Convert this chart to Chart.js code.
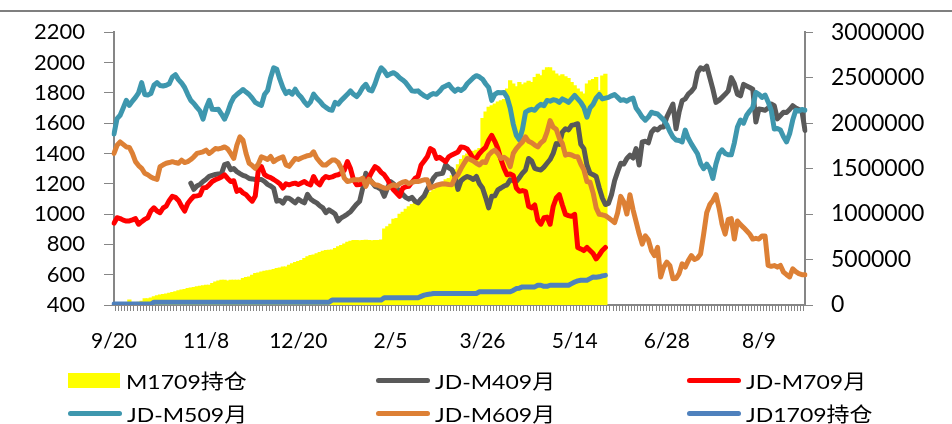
<!DOCTYPE html>
<html>
<head>
<meta charset="utf-8">
<script src="https://cdn.jsdelivr.net/npm/chart.js@4.4.1/dist/chart.umd.min.js"></script>
<style>
  body { margin: 0; background: #fff; }
  #wrap { position: relative; width: 952px; height: 424px; }
  #legend { position: absolute; left: 0; top: 0; width: 952px; height: 424px; pointer-events: none; }
  .item { position: absolute; display: flex; align-items: center; height: 24px;
          font-family: Lato, "Noto Sans CJK SC", sans-serif; font-size: 20px; color: #000; white-space: nowrap; }
  .item .txt { display: inline-block; transform: scaleX(1.15); transform-origin: left center; }
  .swatch { display: inline-block; width: 54px; height: 5px; border-radius: 3px; margin-right: 5px; }
  .box { display: inline-block; width: 52px; height: 15px; margin-right: 6px; }
</style>
</head>
<body>
<div id="wrap">
  <canvas id="chart" width="952" height="424"></canvas>
  <div id="legend"></div>
</div>
<script>
// x axis: one category per trading day, a label every 30 days
const tickLabels = ['9/20', '11/8', '12/20', '2/5', '3/26', '5/14', '6/28', '8/9'];
const tickEvery = 30;
const dayCount = 226;

// M1709 open interest (right axis), ends at day 160
const m1709Oi = [
  5000, 8000, 10000, 12000, 15000, 54000, 20000, 25000, 30000, 40000,
  68000, 68000, 75000, 90000, 100000, 109000, 115000, 120000, 127000, 135000,
  145000, 155000, 163000, 170000, 181000, 185000, 192000, 199000, 205000, 210000,
  215000, 217000, 235000, 253000, 262000, 272000, 270000, 262000, 270000, 272000,
  272000, 272000, 290000, 300000, 308000, 325000, 344000, 352000, 362000, 370000,
  375000, 380000, 390000, 399000, 405000, 417000, 417000, 435000, 453000, 465000,
  478000, 489000, 510000, 530000, 543000, 550000, 562000, 575000, 590000, 598000,
  600000, 605000, 620000, 640000, 652000, 670000, 688000, 700000, 707000, 707000,
  705000, 707000, 710000, 707000, 705000, 708000, 707000, 715000, 834000, 860000,
  888000, 942000, 950000, 996000, 1020000, 1051000, 1080000, 1105000, 1130000, 1141000,
  1177000, 1195000, 1214000, 1240000, 1260000, 1286000, 1310000, 1322000, 1377000, 1390000,
  1420000, 1486000, 1540000, 1600000, 1640000, 1660000, 1685000, 1690000, 1700000, 1720000,
  2050000, 2120000, 2174000, 2190000, 2210000, 2230000, 2246000, 2260000, 2373000, 2464000,
  2430000, 2400000, 2446000, 2420000, 2440000, 2460000, 2446000, 2500000, 2536000, 2520000,
  2580000, 2609000, 2609000, 2573000, 2540000, 2518000, 2530000, 2510000, 2490000, 2446000,
  2410000, 2373000, 2340000, 2319000, 2428000, 2464000, 2480000, 2500000, 2355000, 2518000, 2536000
];

// JD-M409 spread, first value at day 25
const m409Start = 25;
const m409 = [
  1204, 1163, 1185, 1196, 1215,
  1230, 1248, 1255, 1261, 1265, 1267, 1326, 1333, 1293, 1300,
  1280, 1267, 1255, 1248, 1235, 1232, 1228, 1228, 1228, 1215,
  1196, 1185, 1170, 1085, 1090, 1072, 1106, 1104, 1090, 1074,
  1098, 1085, 1074, 1130, 1100, 1085, 1074, 1055, 1041, 1009,
  1028, 1015, 1000, 954, 975, 987, 1000, 1015, 1041, 1065,
  1085, 1172, 1269, 1237, 1210, 1183, 1175, 1163, 1117, 1170,
  1215, 1200, 1172, 1150, 1130, 1110, 1098, 1110, 1085, 1074,
  1100, 1120, 1163, 1200, 1237, 1261, 1265, 1269, 1326, 1305,
  1293, 1250, 1163, 1220, 1237, 1248, 1240, 1228, 1248, 1200,
  1172, 1110, 1041, 1117, 1120, 1160, 1172, 1185, 1193, 1226,
  1220, 1215, 1240, 1270, 1291, 1367, 1350, 1302, 1295, 1291,
  1310, 1335, 1360, 1400, 1465, 1460, 1541, 1563, 1555, 1585,
  1590, 1596, 1460, 1432, 1324, 1269, 1260, 1248, 1172, 1106,
  1063, 1070, 1128, 1220, 1280, 1335, 1330, 1367, 1389, 1370,
  1432, 1324, 1476, 1480, 1470, 1540, 1563, 1555, 1574, 1574,
  1640, 1683, 1726, 1563, 1672, 1748, 1760, 1791, 1810, 1835,
  1933, 1965, 1955, 1976, 1900, 1824, 1737, 1750, 1770, 1790,
  1813, 1900, 1860, 1791, 1780, 1856, 1845, 1835, 1824, 1607,
  1693, 1690, 1685, 1700, 1726, 1715, 1628, 1650, 1672, 1670,
  1690, 1715, 1700, 1690, 1680, 1552
];

// JD-M709 spread, ends at day 160
const m709 = [
  940, 976, 970, 960, 954, 955, 962, 970, 933, 950,
  965, 976, 1020, 1041, 1020, 1009, 1040, 1052, 1090, 1117,
  1110, 1090, 1052, 1020, 1070, 1096, 1117, 1120, 1125, 1172,
  1175, 1193, 1215, 1226, 1235, 1245, 1259, 1235, 1215, 1220,
  1150, 1160, 1140, 1128, 1105, 1085, 1120, 1291, 1313, 1260,
  1248, 1240, 1228, 1215, 1200, 1172, 1200, 1193, 1200, 1204,
  1195, 1205, 1215, 1200, 1193, 1248, 1210, 1193, 1230, 1248,
  1240, 1245, 1255, 1259, 1270, 1290, 1346, 1300, 1226, 1193,
  1195, 1210, 1220, 1240, 1280, 1313, 1300, 1275, 1259, 1230,
  1190, 1160, 1139, 1117, 1170, 1180, 1183, 1210, 1235, 1248,
  1324, 1350, 1378, 1432, 1420, 1367, 1375, 1360, 1346, 1378,
  1390, 1400, 1410, 1443, 1440, 1430, 1400, 1367, 1370, 1400,
  1422, 1440, 1487, 1520, 1480, 1432, 1360, 1302, 1259, 1265,
  1255, 1172, 1150, 1155, 1150, 1052, 1041, 1060, 960, 933,
  976, 980, 933, 1050, 1106, 1128, 1060, 998, 990, 985,
  998, 780, 770, 759, 780, 760, 740, 704, 730, 760, 780
];

// JD-M509 spread
const m509 = [
  1528, 1630, 1652, 1700, 1750, 1717, 1745, 1770, 1800, 1867,
  1789, 1785, 1795, 1850, 1867, 1848, 1845, 1850, 1860, 1905,
  1920, 1887, 1865, 1835, 1790, 1750, 1730, 1704, 1680, 1626,
  1700, 1750, 1691, 1690, 1691, 1660, 1626, 1672, 1730, 1770,
  1789, 1805, 1822, 1805, 1789, 1765, 1737, 1725, 1717, 1789,
  1815, 1900, 1965, 1955, 1890, 1835, 1795, 1810, 1791, 1824,
  1790, 1770, 1740, 1717, 1740, 1791, 1765, 1745, 1720, 1704,
  1690, 1685, 1737, 1725, 1750, 1770, 1790, 1813, 1790, 1775,
  1800, 1835, 1856, 1820, 1813, 1860, 1920, 1965, 1945, 1913,
  1925, 1933, 1920, 1900, 1885, 1867, 1840, 1813, 1810, 1813,
  1795, 1780, 1770, 1785, 1795, 1790, 1810, 1835, 1845, 1856,
  1830, 1810, 1825, 1815, 1830, 1860, 1880, 1900, 1913, 1905,
  1890, 1860, 1835, 1750, 1790, 1802, 1800, 1802, 1770, 1700,
  1594, 1520, 1489, 1560, 1672, 1685, 1691, 1685, 1710, 1724,
  1715, 1750, 1745, 1755, 1750, 1737, 1760, 1750, 1737, 1760,
  1783, 1760, 1737, 1704, 1639, 1700, 1724, 1765, 1789, 1760,
  1765, 1770, 1780, 1789, 1770, 1750, 1755, 1745, 1758, 1765,
  1700, 1672, 1640, 1620, 1640, 1672, 1665, 1660, 1640, 1620,
  1590, 1545, 1509, 1489, 1485, 1476, 1554, 1500, 1463, 1430,
  1398, 1333, 1300, 1330, 1300, 1235, 1330, 1398, 1424, 1400,
  1391, 1391, 1470, 1574, 1620, 1600, 1652, 1680, 1704, 1802,
  1790, 1770, 1785, 1740, 1685, 1561, 1565, 1555, 1510, 1476,
  1530, 1620, 1685, 1680, 1690, 1685
];

// JD-M609 spread
const m609 = [
  1400, 1454, 1476, 1460, 1443, 1440, 1400, 1346, 1320, 1302,
  1269, 1259, 1245, 1235, 1228, 1313, 1325, 1335, 1340, 1346,
  1340, 1335, 1356, 1340, 1346, 1360, 1378, 1400, 1405, 1411,
  1422, 1400, 1415, 1432, 1430, 1435, 1443, 1430, 1400, 1367,
  1454, 1509, 1487, 1400, 1335, 1320, 1302, 1330, 1378, 1370,
  1360, 1380, 1346, 1360, 1370, 1378, 1324, 1315, 1340, 1367,
  1360, 1370, 1378, 1385, 1389, 1411, 1370, 1345, 1324, 1324,
  1340, 1356, 1356, 1340, 1302, 1237, 1215, 1220, 1226, 1226,
  1226, 1237, 1183, 1230, 1210, 1193, 1190, 1180, 1172, 1170,
  1185, 1193, 1185, 1200, 1210, 1215, 1200, 1210, 1215, 1215,
  1220, 1226, 1226, 1172, 1180, 1190, 1195, 1200, 1198, 1195,
  1193, 1237, 1260, 1300, 1335, 1367, 1360, 1350, 1335, 1324,
  1345, 1340, 1389, 1410, 1422, 1400, 1367, 1375, 1360, 1313,
  1400, 1432, 1455, 1476, 1509, 1480, 1470, 1455, 1443, 1470,
  1487, 1541, 1617, 1574, 1560, 1500, 1465, 1389, 1395, 1390,
  1380, 1378, 1330, 1291, 1215, 1210, 1140, 1041, 998, 995,
  990, 976, 960, 943, 1009, 1117, 1080, 1000, 1128, 1030,
  950, 870, 802, 856, 830, 759, 726, 780, 585, 650,
  683, 660, 574, 575, 607, 672, 650, 693, 726, 700,
  710, 737, 868, 1009, 1063, 1090, 1128, 1041, 933, 868,
  965, 970, 835, 954, 930, 911, 890, 868, 835, 840,
  835, 856, 856, 661, 655, 660, 650, 661, 617, 600,
  585, 639, 620, 607, 600, 600
];

// JD1709 open interest (right axis), ends at day 160
const jd1709Oi = [
  10000, 10000, 10000, 10000, 10000, 10000, 10000, 10000, 10000, 10000,
  10000, 10000, 10000, 30000, 30000, 30000, 30000, 30000, 30000, 30000,
  30000, 30000, 30000, 30000, 30000, 30000, 30000, 30000, 30000, 30000,
  30000, 30000, 30000, 30000, 30000, 30000, 30000, 30000, 30000, 30000,
  30000, 30000, 30000, 30000, 30000, 30000, 30000, 30000, 30000, 30000,
  30000, 30000, 30000, 30000, 30000, 30000, 30000, 30000, 30000, 30000,
  30000, 30000, 30000, 30000, 30000, 30000, 30000, 30000, 30000, 30000,
  30000, 54000, 54000, 54000, 54000, 54000, 54000, 54000, 54000, 54000,
  54000, 54000, 54000, 54000, 54000, 54000, 54000, 54000, 80000, 80000,
  80000, 80000, 80000, 80000, 80000, 80000, 80000, 80000, 80000, 80000,
  95000, 109000, 115000, 120000, 127000, 127000, 127000, 127000, 127000, 127000,
  127000, 127000, 127000, 127000, 127000, 127000, 127000, 127000, 127000, 145000,
  145000, 145000, 145000, 145000, 145000, 145000, 145000, 145000, 145000, 145000,
  160000, 181000, 185000, 199000, 199000, 199000, 199000, 199000, 217000, 217000,
  205000, 205000, 217000, 217000, 217000, 217000, 217000, 217000, 217000, 235000,
  253000, 265000, 272000, 272000, 272000, 290000, 308000, 305000, 310000, 320000, 326000
];

const axisGray = '#868686';
const fontFamily = 'Lato, "Noto Sans CJK SC", sans-serif';

function lineSet(label, data, color, order) {
    return {
        type: 'line',
        label: label,
        data: data,
        borderColor: color,
        backgroundColor: color,
        borderWidth: 5,
        pointRadius: 0,
        tension: 0,
        borderJoinStyle: 'round',
        borderCapStyle: 'round',
        spanGaps: false,
        order: order
    };
}

// thin rule across the top of the picture
const topRule = {
    id: 'topRule',
    afterDraw(chart) {
        const ctx = chart.ctx;
        ctx.save();
        ctx.strokeStyle = '#7f7f7f';
        ctx.lineWidth = 2;
        ctx.beginPath();
        ctx.moveTo(0, 11);
        ctx.lineTo(chart.width, 11);
        ctx.stroke();
        ctx.restore();
    }
};

function buildLegend(chart) {
    const legend = document.getElementById('legend');
    const cols = [68, 376, 687];
    const rows = [380, 413];
    chart.data.datasets.forEach((ds, i) => {
        const item = document.createElement('div');
        item.className = 'item';
        item.style.left = cols[i % 3] + 'px';
        item.style.top = (rows[Math.floor(i / 3)] - 12) + 'px';
        const sw = document.createElement('span');
        sw.className = ds.type === 'bar' ? 'box' : 'swatch';
        sw.style.background = ds.type === 'bar' ? ds.backgroundColor : ds.borderColor;
        const txt = document.createElement('span');
        txt.className = 'txt';
        txt.textContent = ds.label;
        item.appendChild(sw);
        item.appendChild(txt);
        legend.appendChild(item);
    });
}

const labels = Array.from({ length: dayCount }, (_, i) => i % tickEvery === 0 ? tickLabels[i / tickEvery] : '');
const m409Full = new Array(m409Start).fill(null).concat(m409);

const ctx = document.getElementById('chart').getContext('2d');
const chart = new Chart(ctx, {
    data: {
        labels: labels,
        datasets: [
            {
                type: 'bar',
                label: 'M1709持仓',
                data: m1709Oi,
                yAxisID: 'yRight',
                backgroundColor: '#ffff00',
                borderWidth: 0,
                barPercentage: 1.0,
                categoryPercentage: 1.0,
                inflateAmount: 0.6,
                order: 10
            },
            lineSet('JD-M409月', m409Full, '#595959', 6),
            lineSet('JD-M709月', m709, '#ff0000', 5),
            lineSet('JD-M509月', m509, '#3e97ae', 4),
            lineSet('JD-M609月', m609, '#dd8035', 3),
            Object.assign(lineSet('JD1709持仓', jd1709Oi, '#4f81bd', 2), { yAxisID: 'yRight' })
        ]
    },
    options: {
        responsive: false,
        animation: false,
        layout: { padding: { top: 29, left: 0, right: 0, bottom: 0 } },
        plugins: {
            legend: { display: false },
            tooltip: { enabled: false }
        },
        scales: {
            x: {
                type: 'category',
                offset: false,
                grid: { display: true, drawOnChartArea: false, drawTicks: true, tickLength: 6, color: axisGray, lineWidth: 1 },
                border: { color: axisGray, width: 2 },
                ticks: { autoSkip: false, maxRotation: 0, minRotation: 0, padding: 18, color: '#000', font: { family: fontFamily, size: 21 } },
                afterFit: s => { s.height = 119; }
            },
            y: {
                position: 'left',
                min: 400,
                max: 2200,
                ticks: { stepSize: 200, padding: 19, color: '#000', font: { family: fontFamily, size: 22 }, callback: v => String(v) },
                grid: { drawOnChartArea: false, drawTicks: true, tickLength: 10, color: axisGray },
                border: { color: axisGray, width: 2 },
                afterFit: s => { s.width = 114; }
            },
            yRight: {
                position: 'right',
                min: 0,
                max: 3000000,
                ticks: { stepSize: 500000, padding: 18, color: '#000', font: { family: fontFamily, size: 23 }, callback: v => String(v) },
                grid: { drawOnChartArea: false, drawTicks: true, tickLength: 8, color: axisGray },
                border: { color: axisGray, width: 2 },
                afterFit: s => { s.width = 147; }
            }
        }
    },
    plugins: [topRule]
});

buildLegend(chart);
</script>
</body>
</html>
